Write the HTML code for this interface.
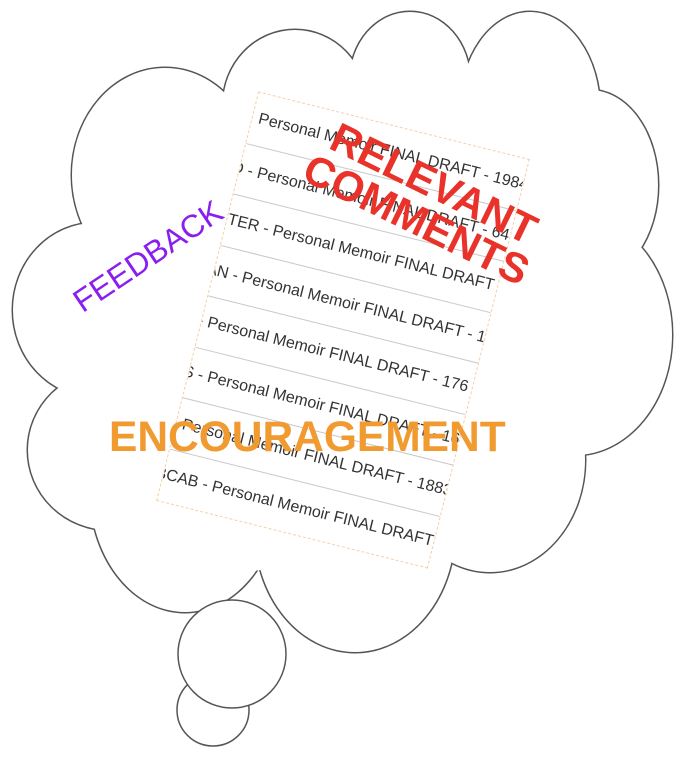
<!DOCTYPE html>
<html><head><style>
html,body{margin:0;padding:0;background:#fff;width:680px;height:764px;overflow:hidden;position:relative;font-family:"Liberation Sans",sans-serif}
svg{position:absolute;left:0;top:0}
.doc{position:absolute;left:203px;top:119px;width:280px;height:422px;transform:rotate(14deg);transform-origin:center;border:1px dashed #f5d0a8;box-sizing:border-box;overflow:hidden;background:transparent}
.row{height:52.5px;border-bottom:1px solid #c8c8c8;box-sizing:border-box;white-space:nowrap;font-size:16px;color:#333;line-height:52px;overflow:hidden}
.row span{display:inline-block}
.t{position:absolute;white-space:nowrap;font-family:"Liberation Sans",sans-serif}
</style></head><body>
<svg width="680" height="764" viewBox="0 0 680 764">
<g fill="none" stroke="#555" stroke-width="3">
<ellipse cx="165" cy="175" rx="93" ry="107"/>
<ellipse cx="295" cy="105" rx="72" ry="75"/>
<ellipse cx="410" cy="80" rx="60" ry="68"/>
<ellipse cx="530" cy="110" rx="70" ry="98"/>
<ellipse cx="590" cy="185" rx="68" ry="95"/>
<ellipse cx="575" cy="335" rx="97" ry="120"/>
<ellipse cx="490" cy="460" rx="95" ry="112"/>
<ellipse cx="355" cy="530" rx="100" ry="122"/>
<ellipse cx="185" cy="490" rx="95" ry="122"/>
<ellipse cx="110" cy="450" rx="82" ry="80"/>
<ellipse cx="95" cy="310" rx="82" ry="87"/>
</g>
<g fill="#fff" stroke="none">
<ellipse cx="165" cy="175" rx="93" ry="107"/>
<ellipse cx="295" cy="105" rx="72" ry="75"/>
<ellipse cx="410" cy="80" rx="60" ry="68"/>
<ellipse cx="530" cy="110" rx="70" ry="98"/>
<ellipse cx="590" cy="185" rx="68" ry="95"/>
<ellipse cx="575" cy="335" rx="97" ry="120"/>
<ellipse cx="490" cy="460" rx="95" ry="112"/>
<ellipse cx="355" cy="530" rx="100" ry="122"/>
<ellipse cx="185" cy="490" rx="95" ry="122"/>
<ellipse cx="110" cy="450" rx="82" ry="80"/>
<ellipse cx="95" cy="310" rx="82" ry="87"/>
<polygon points="120,180 240,110 300,80 410,60 470,75 530,60 600,150 620,300 560,450 450,540 350,600 260,570 200,580 90,480 60,320"/>
</g>
<g fill="#fff" stroke="#555" stroke-width="1.5">
<circle cx="208" cy="720" r="24"/>
<circle cx="213" cy="710" r="36"/>
<circle cx="232" cy="654" r="54"/>
</g>
</svg>
<div class="doc">
<div class="row"><span style="margin-left:6px">Personal Memoir FINAL DRAFT - 1984</span></div>
<div class="row"><span style="margin-left:-8px">D - Personal Memoir FINAL DRAFT - 64</span></div>
<div class="row"><span style="margin-left:-10px">STER - Personal Memoir FINAL DRAFT</span></div>
<div class="row"><span style="margin-left:-8px">AN - Personal Memoir FINAL DRAFT - 1</span></div>
<div class="row"><span style="margin-left:-4px">- Personal Memoir FINAL DRAFT - 176</span></div>
<div class="row"><span style="margin-left:-6px">S - Personal Memoir FINAL DRAFT - 16</span></div>
<div class="row"><span style="margin-left:6px">Personal Memoir FINAL DRAFT - 1883</span></div>
<div class="row" style="border-bottom:none"><span style="margin-left:-8px">BCAB - Personal Memoir FINAL DRAFT</span></div>
</div>
<div class="t" style="left:295px;top:162px;width:260px;text-align:center;color:#e8322a;font-weight:bold;font-size:42px;line-height:40px;transform:rotate(26deg)">RELEVANT<br>COMMENTS</div>
<div class="t" style="left:62px;top:238px;color:#8a1ef0;font-size:32px;transform:rotate(-34deg)">FEEDBACK</div>
<div class="t" style="left:109px;top:414px;color:#f09a30;font-weight:bold;font-size:42.5px;">ENCOURAGEMENT</div>
</body></html>
